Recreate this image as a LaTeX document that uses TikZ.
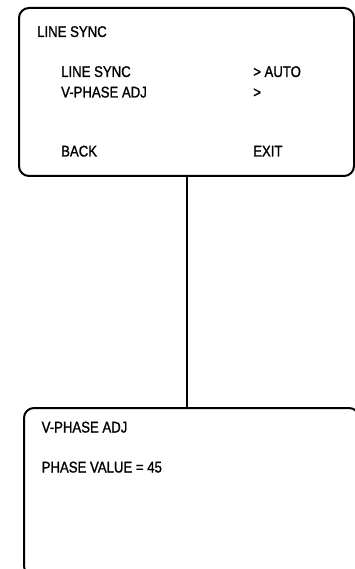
\documentclass[tikz,border=0pt]{standalone}
\usepackage{fontspec}
\setmainfont{Liberation Sans}[FakeStretch=0.85, FakeBold=1.2]
\usepackage{tikz}
\usetikzlibrary{calc, positioning}

\tikzset{
  screen/.style={draw, line width=2pt, rounded corners=10pt, anchor=north west, inner sep=0pt},
  menutext/.style={anchor=base west, inner sep=0pt, font=\fontsize{15.5}{17}\selectfont}
}

\begin{document}
\begin{tikzpicture}[x=1pt, y=-1pt]
  \useasboundingbox (0,0) rectangle (355,569);
  \clip (0,0) rectangle (355,569);
  % line sync menu
  \node [screen, minimum width=335pt, minimum height=168pt] (syncbox) at (18,7) {};
  \node [menutext] (synctitle) at (37,37) {LINE SYNC};
  \node [menutext] (syncitem) at (61,77) {LINE SYNC};
  \node [menutext] (phaseitem) at (61,97.5) {V-PHASE ADJ};
  \node [menutext] (syncvalue) at (253,77) {> AUTO};
  \node [menutext] (phasevalue) at (253,97.5) {>};
  \node [menutext] (back) at (61,156.5) {BACK};
  \node [menutext] (exit) at (253,156.5) {EXIT};
  % v-phase menu
  \node [screen, minimum width=335pt, minimum height=168pt] (phasebox) at (23,407) {};
  \node [menutext] (phasetitle) at (41.5,432.5) {V-PHASE ADJ};
  \node [menutext] (phaseline) at (41.5,472.5) {PHASE VALUE = 45};
  \draw [line width=2pt] (syncbox.south) -- (syncbox.south |- phasebox.north);
\end{tikzpicture}
\end{document}
